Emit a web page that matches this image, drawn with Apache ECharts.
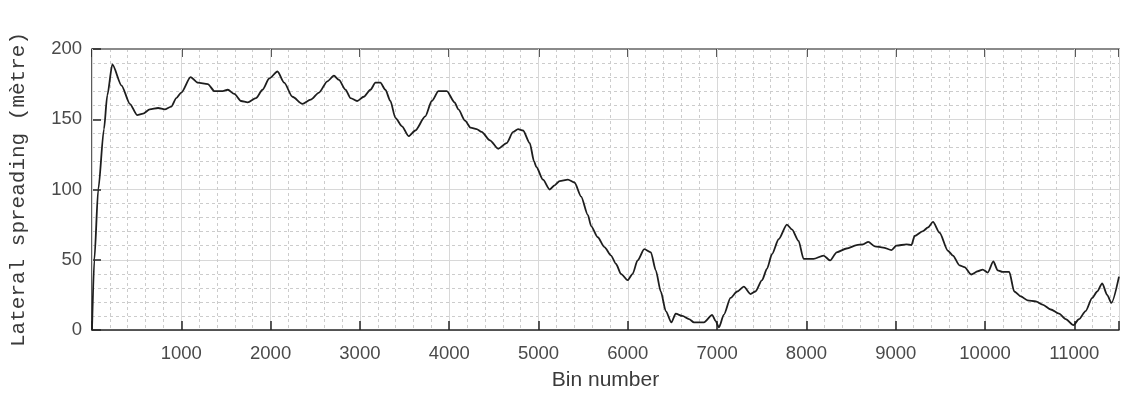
<!DOCTYPE html>
<html>
<head>
<meta charset="utf-8">
<script src="https://cdn.jsdelivr.net/npm/echarts@6/dist/echarts.min.js"></script>
<style>
html,body{margin:0;padding:0;background:#fff;}
#chart{width:1122px;height:396px;}
</style>
</head>
<body>
<div id="chart"></div>
<script>
// Bin numbers (x) and lateral spreading values in metres (y)
const bins = [0, 26, 70, 134, 171, 228, 331, 424, 505, 572, 647, 740, 814, 888, 944, 1000,
  1104, 1185, 1297, 1371, 1464, 1520, 1594, 1669, 1743, 1836, 1910, 1984, 2077, 2152, 2244,
  2356, 2449, 2542, 2635, 2709, 2765, 2839, 2895, 2969, 3043, 3118, 3174, 3229, 3285, 3341,
  3397, 3471, 3545, 3620, 3731, 3805, 3880, 3973, 4060, 4103, 4177, 4240, 4307, 4363, 4456,
  4549, 4642, 4716, 4771, 4827, 4902, 4950, 4976, 5050, 5125, 5180, 5236, 5329, 5403, 5477,
  5552, 5589, 5663, 5738, 5812, 5868, 5923, 5998, 6054, 6109, 6184, 6258, 6313, 6369, 6425,
  6488, 6536, 6611, 6685, 6741, 6852, 6945, 6982, 7020, 7076, 7150, 7224, 7299, 7373, 7428,
  7503, 7559, 7614, 7689, 7781, 7837, 7912, 7968, 8079, 8191, 8265, 8339, 8450, 8562, 8636,
  8692, 8766, 8859, 8952, 9008, 9119, 9175, 9212, 9305, 9361, 9417, 9491, 9584, 9640, 9714,
  9770, 9844, 9919, 9974, 10030, 10093, 10141, 10197, 10271, 10327, 10401, 10476, 10569,
  10643, 10736, 10829, 10903, 10990, 11052, 11126, 11200, 11256, 11312, 11367, 11415, 11500];
const spreading = [0, 50, 100, 143, 167, 189, 174, 161, 153, 154, 157, 158, 157, 159, 165, 169,
  180, 176, 175, 170, 170, 171, 168, 163, 162, 165, 171, 179, 184, 176, 166,
  161, 164, 169, 177, 181, 178, 171, 165, 163, 166, 171, 176, 176, 171, 163,
  151, 145, 138, 142, 152, 163, 170, 170, 162, 157, 149, 144, 143, 141, 135,
  129, 133, 141, 143, 142, 133, 120, 116, 107, 100, 103, 106, 107, 105, 95,
  82, 74, 66, 59, 53, 47, 40, 35.5, 40, 49.5, 57.6, 55.3, 42.5, 27.4, 13.5,
  5.4, 11.6, 10, 7.7, 5.4, 5.4, 10.7, 6.5, 1.9, 11, 22.8, 27.4, 30.9, 25.6, 27.4,
  35.5, 43.7, 54, 64.6, 75, 71.6, 63.4, 50.6, 50.6, 53, 49.5, 55.3, 58, 60.4, 61,
  62.7, 59.5, 58.7, 56.9, 60, 61, 60.4, 66.9, 70.4, 73, 76.9, 69.2, 56.4, 53, 46,
  44.8, 39.5, 41.8, 43, 40.9, 48.8, 42.5, 41.3, 41.3, 27.4, 23.9, 21.1, 20.4,
  18.1, 14.6, 11.6, 7.7, 3.5, 7.7, 13.5, 22.8, 27.4, 33.2, 25, 19.3, 38];
const xTicks = [1000, 2000, 3000, 4000, 5000, 6000, 7000, 8000, 9000, 10000, 11000];
const yTicks = [0, 50, 100, 150, 200];
const xLabel = 'Bin number';
const yLabel = 'Lateral spreading (mètre)';

const points = bins.map((b, i) => [b, spreading[i]]);
const chart = echarts.init(document.getElementById('chart'), null, {renderer: 'canvas'});
const tickColor = '#4a4a4a';
const minorStyle = {color: '#cccccc', width: 1, type: [3, 3]};
chart.setOption({
  animation: false,
  backgroundColor: '#ffffff',
  grid: {left: 92, right: 0, top: 49, bottom: 60, containLabel: false},
  xAxis: [
    {
      type: 'value', position: 'bottom', min: 0, max: 11500, interval: 1000,
      name: xLabel, nameLocation: 'middle', nameGap: 40,
      nameTextStyle: {fontFamily: 'Liberation Sans', fontSize: 21, color: '#3a3a3a'},
      axisLine: {show: true, onZero: false, lineStyle: {color: '#262626', width: 1.5}},
      axisTick: {show: true, inside: true, length: 9, lineStyle: {color: '#262626', width: 1.5}},
      axisLabel: {
        margin: 14, fontFamily: 'Liberation Sans', fontSize: 18.5, color: tickColor,
        formatter: v => (xTicks.indexOf(v) >= 0 ? String(v) : '')
      },
      splitLine: {show: true, lineStyle: {color: '#d8d8d8', width: 1}},
      z: 3
    },
    {
      type: 'value', position: 'top', min: 0, max: 11500, interval: 1000,
      axisLine: {show: true, onZero: false, lineStyle: {color: '#8a8a8a', width: 2}},
      axisTick: {show: true, inside: true, length: 8, lineStyle: {color: '#262626', width: 1.5}},
      axisLabel: {show: false},
      splitLine: {show: false}
    },
    {
      type: 'value', position: 'bottom', min: 0, max: 11500, interval: 200,
      axisLine: {show: false}, axisTick: {show: false}, axisLabel: {show: false},
      splitLine: {show: true, lineStyle: minorStyle},
      z: 0
    }
  ],
  yAxis: {
    type: 'value', min: 0, max: 200, interval: 50,
    name: yLabel, nameLocation: 'middle', nameGap: 63, nameRotate: 90,
    nameTextStyle: {fontFamily: 'Liberation Mono', fontSize: 21, color: '#3a3a3a'},
    axisLine: {show: true, lineStyle: {color: '#262626', width: 1.5}},
    axisTick: {show: true, inside: true, length: 9, lineStyle: {color: '#262626', width: 1.5}},
    axisLabel: {
      margin: 10, fontFamily: 'Liberation Sans', fontSize: 18.5, color: tickColor,
      formatter: v => (yTicks.indexOf(v) >= 0 ? String(v) : '')
    },
    splitLine: {show: true, lineStyle: {color: '#d8d8d8', width: 1}},
    minorTick: {show: false, splitNumber: 5},
    minorSplitLine: {show: true, lineStyle: minorStyle}
  },
  series: [{
    type: 'line', xAxisIndex: 0, data: points, showSymbol: false, symbol: 'none',
    smooth: 0.25, smoothMonotone: 'x',
    lineStyle: {color: '#1e1e1e', width: 1.8}, z: 5
  }]
});
</script>
</body>
</html>
